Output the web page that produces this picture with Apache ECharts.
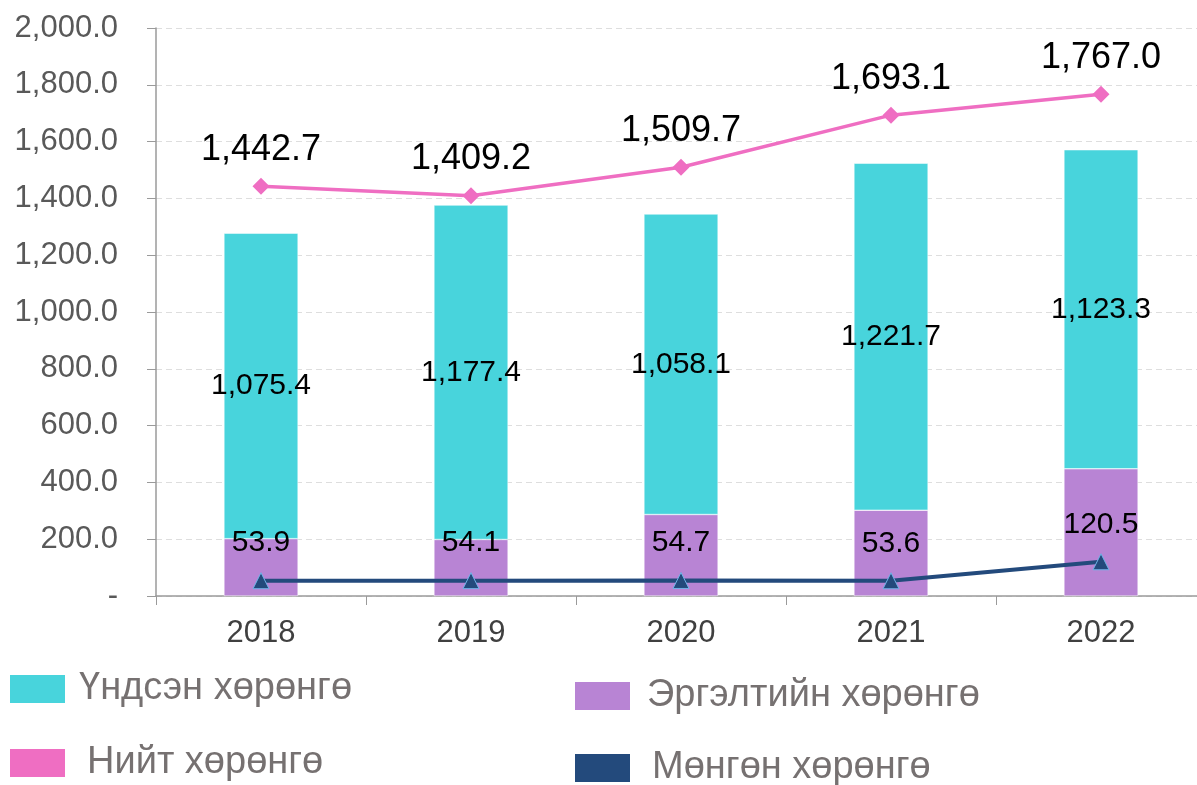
<!DOCTYPE html>
<html>
<head>
<meta charset="utf-8">
<script src="https://cdn.jsdelivr.net/npm/echarts@6/dist/echarts.min.js"></script>
<style>
  html, body { margin: 0; padding: 0; background: #fff; overflow: hidden; }
  #chart-container { width: 1206px; height: 785px; }
</style>
</head>
<body>
<div id="chart-container"></div>
<script>
const years = ['2018', '2019', '2020', '2021', '2022'];
// Үндсэн хөрөнгө (cyan, stacked on top)
const fixedAssets = [1075.4, 1177.4, 1058.1, 1221.7, 1123.3];
// Эргэлтийн хөрөнгө (purple, bottom of the stack)
const currentAssets = [202, 199, 287, 302, 448];
// Нийт хөрөнгө (pink line)
const totalAssets = [1442.7, 1409.2, 1509.7, 1693.1, 1767.0];
// Мөнгөн хөрөнгө (navy line)
const cashAssets = [53.9, 54.1, 54.7, 53.6, 120.5];

const fmt = v => v === 0 ? '-' : v.toLocaleString('en-US', {minimumFractionDigits: 1, maximumFractionDigits: 1});

const chartDom = document.getElementById('chart-container');
const myChart = echarts.init(chartDom, null, { renderer: 'canvas' });

const baseFont = '"Liberation Sans", Arial, sans-serif';

// each legend entry is placed on its own, like the original 2x2 layout
const legendItem = (name, left, top, gap) => ({
    left: left,
    top: top,
    padding: 0,
    icon: 'rect',
    itemWidth: 55,
    itemHeight: 28,
    itemStyle: { borderWidth: 0 },
    textStyle: {
        color: '#767171',
        fontSize: 38,
        fontFamily: '"Liberation Sans Narrow", "Liberation Sans", Arial, sans-serif',
        padding: [0, 0, 0, gap]
    },
    selectedMode: false,
    data: [name]
});

const options = {
    animation: false,
    grid: { // plot area
        left: 156,
        right: 0,
        top: 28,
        bottom: 189,
        containLabel: false
    },
    legend: [
        legendItem('Үндсэн хөрөнгө', 10, 670, 9),
        legendItem('Эргэлтийн хөрөнгө', 575, 677, 12),
        legendItem('Нийт хөрөнгө', 10, 744, 17),
        legendItem('Мөнгөн хөрөнгө', 575, 749, 17)
    ],
    xAxis: {
        type: 'category',
        data: years,
        axisLine: { lineStyle: { color: '#9a9a9a', width: 1.5 } },
        axisTick: { show: true, length: 9, lineStyle: { color: '#9a9a9a' } },
        axisLabel: {
            color: '#404040',
            fontSize: 31,
            margin: 22,
            fontFamily: baseFont
        }
    },
    yAxis: {
        type: 'value',
        min: 0,
        max: 2000,
        interval: 200,
        axisLine: { show: true, lineStyle: { color: '#9a9a9a', width: 1.5 } },
        axisTick: { show: true, length: 9, lineStyle: { color: '#9a9a9a' } },
        splitLine: { lineStyle: { color: '#dedede', type: [6, 4] } },
        axisLabel: {
            color: '#595959',
            fontSize: 31,
            margin: 38,
            fontFamily: baseFont,
            formatter: fmt
        }
    },
    series: [
        {
            name: 'Эргэлтийн хөрөнгө',
            type: 'bar',
            stack: 'assets',
            barWidth: '35.3%',
            data: currentAssets,
            itemStyle: { color: '#b884d4', borderColor: '#ffffff', borderWidth: 0.5 }
        },
        {
            name: 'Үндсэн хөрөнгө',
            type: 'bar',
            stack: 'assets',
            barWidth: '35.3%',
            data: fixedAssets,
            itemStyle: { color: '#48d4dc', borderColor: '#ffffff', borderWidth: 0.5 },
            label: {
                show: true,
                position: 'inside',
                color: '#000',
                fontSize: 30,
                fontFamily: baseFont,
                formatter: p => fmt(p.value)
            }
        },
        {
            name: 'Нийт хөрөнгө',
            type: 'line',
            data: totalAssets,
            symbol: 'diamond',
            symbolSize: 17,
            lineStyle: { color: '#ef6ec2', width: 3.5 },
            itemStyle: { color: '#ef6ec2' },
            label: {
                show: true,
                position: 'top',
                distance: 10,
                color: '#000',
                fontSize: 36,
                fontFamily: baseFont,
                formatter: p => fmt(p.value)
            }
        },
        {
            name: 'Мөнгөн хөрөнгө',
            type: 'line',
            data: cashAssets,
            symbol: 'triangle',
            symbolSize: 16,
            lineStyle: { color: '#234a7c', width: 4 },
            itemStyle: { color: '#234a7c', borderColor: '#6fb3e8', borderWidth: 1 },
            label: {
                show: true,
                position: 'top',
                distance: 14,
                color: '#000',
                fontSize: 30,
                fontFamily: baseFont,
                formatter: p => fmt(p.value)
            }
        }
    ]
};

myChart.setOption(options);

window.addEventListener('resize', () => {
    myChart.resize();
});
</script>
</body>
</html>
